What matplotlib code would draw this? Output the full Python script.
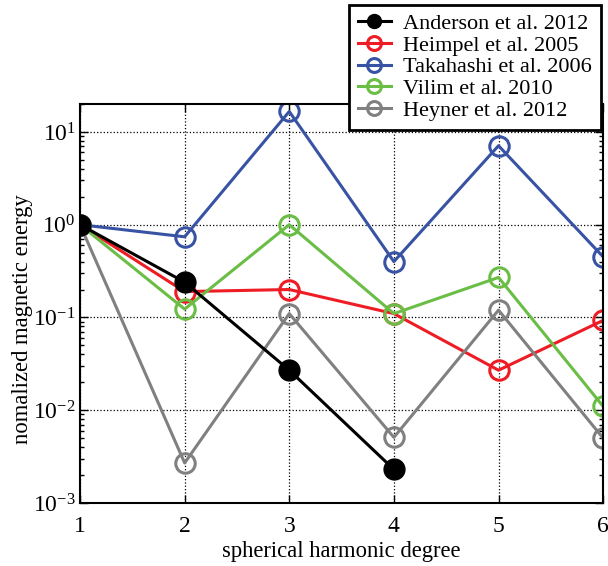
import numpy as np
import matplotlib
matplotlib.use('Agg')
import matplotlib.pyplot as plt
from matplotlib.ticker import LogLocator, NullFormatter

plt.rcParams['font.family'] = ['Liberation Serif', 'DejaVu Serif']
plt.rcParams['mathtext.fontset'] = 'custom'
plt.rcParams['mathtext.rm'] = 'Liberation Serif'
plt.rcParams['mathtext.it'] = 'Liberation Serif:italic'

# 数据
degree = [1, 2, 3, 4, 5, 6]
anderson = [1.0, 0.24, 0.027, 0.0023]
heimpel = [1.0, 0.19, 0.20, 0.11, 0.027, 0.093]
takahashi = [1.0, 0.74, 16.6, 0.40, 7.1, 0.45]
vilim = [1.0, 0.123, 1.0, 0.11, 0.27, 0.011]
heyner = [1.0, 0.0027, 0.11, 0.0051, 0.12, 0.005]

fig = plt.figure(figsize=(6.08, 5.66), dpi=100)
ax = fig.add_axes([0.1316, 0.1113, 0.8604, 0.705])

lw = 2.2
ax.plot(degree[:4], anderson, '-o', color='black', lw=lw, ms=15,
        mfc='black', mec='black', label='Anderson et al. 2012', zorder=6)
ax.plot(degree, heimpel, '-o', color='#ee1c25', lw=lw, ms=14, mfc='none',
        mew=2.2, label='Heimpel et al. 2005')
ax.plot(degree, takahashi, '-o', color='#3953a4', lw=lw, ms=14, mfc='none',
        mew=2.2, label='Takahashi et al. 2006')
ax.plot(degree, vilim, '-o', color='#6abd45', lw=lw, ms=14, mfc='none',
        mew=2.2, label='Vilim et al. 2010')
ax.plot(degree, heyner, '-o', color='#808080', lw=lw, ms=14, mfc='none',
        mew=2.2, label='Heyner et al. 2012')

ax.set_yscale('log')
ax.set_xlim(1, 6)
ax.set_ylim(1e-3, 20)
ax.set_xticks(degree)
ax.yaxis.set_major_locator(LogLocator(base=10, numticks=10))
ax.yaxis.set_minor_locator(LogLocator(base=10, subs=np.arange(2, 10), numticks=10))
ax.yaxis.set_minor_formatter(NullFormatter())

ax.grid(True, which='major', linestyle=':', color='black', lw=0.9)
ax.tick_params(which='both', direction='in', top=True, right=True,
               labelsize=17, width=1)
ax.tick_params(which='major', length=6)
ax.tick_params(which='minor', length=3)
ax.tick_params(axis='x', which='major', pad=9)
ax.tick_params(axis='y', which='major', pad=3)
for s in ax.spines.values():
    s.set_linewidth(1.5)

ax.set_xlabel('spherical harmonic degree', fontsize=16.3, labelpad=3)
ax.set_ylabel('nomalized magnetic energy', fontsize=16.3)
ax.yaxis.set_label_coords(-0.09, 0.46)

leg = fig.legend(loc='upper right', bbox_to_anchor=(0.988, 0.992),
                 borderaxespad=0, fontsize=16, handlelength=1.5,
                 handletextpad=0.55, labelspacing=0.05, borderpad=0.4,
                 fancybox=False, framealpha=1, edgecolor='black')
leg.get_frame().set_linewidth(2)
for h in leg.legend_handles:
    h.set_markersize(10)

plt.savefig('out.png', dpi=100)
